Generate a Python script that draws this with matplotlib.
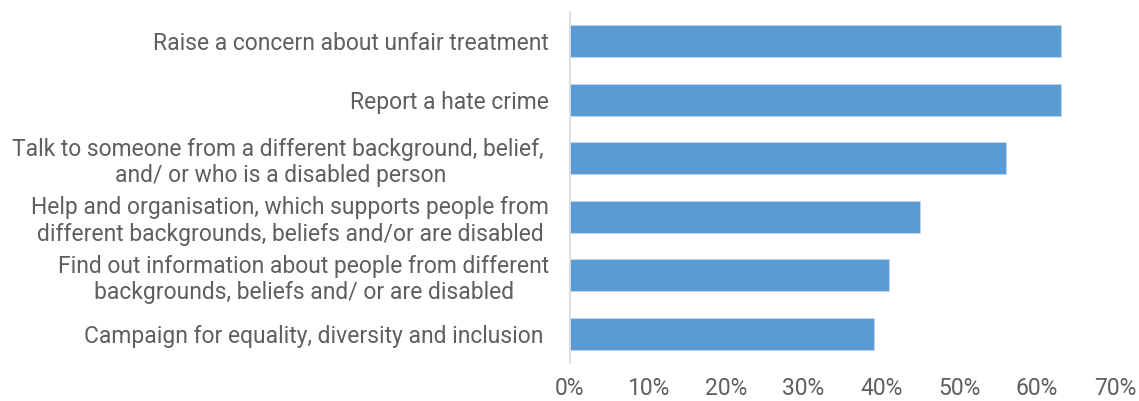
import matplotlib
matplotlib.use("Agg")
import matplotlib.pyplot as plt
from matplotlib.ticker import PercentFormatter
from matplotlib import font_manager

categories = [
    "Raise a concern about unfair treatment",
    "Report a hate crime",
    "Talk to someone from a different background, belief, \nand/ or who is a disabled person",
    "Help and organisation, which supports people from\ndifferent backgrounds, beliefs and/or are disabled",
    "Find out information about people from different\nbackgrounds, beliefs and/ or are disabled",
    "Campaign for equality, diversity and inclusion ",
]
values = [63, 63, 56, 45, 41, 39]
x_ticks = [0, 10, 20, 30, 40, 50, 60, 70]

names = {f.name for f in font_manager.fontManager.ttflist}
family = "Liberation Sans Narrow" if "Liberation Sans Narrow" in names else "Roboto"
plt.rcParams["font.family"] = [family, "DejaVu Sans"]

fig = plt.figure(figsize=(11.39, 4.01), dpi=100)
ax = fig.add_axes([570 / 1139, 1 - 363 / 401, (1115 - 570) / 1139, (363 - 12) / 401])

y = range(len(categories))
ax.barh(y, values, height=0.55, color="#5B9BD5", edgecolor="#BDD7EE", linewidth=0.6)
ax.set_ylim(len(categories) - 0.5, -0.5)
ax.set_xlim(0, 70)
ax.set_xticks(x_ticks)
ax.xaxis.set_major_formatter(PercentFormatter(decimals=0))
ax.set_yticks(list(y))
ax.set_yticklabels(categories, ha="right", multialignment="center")

for s in ["top", "right", "bottom"]:
    ax.spines[s].set_visible(False)
ax.spines["left"].set_color("#D9D9D9")
ax.spines["left"].set_linewidth(1.2)
ax.tick_params(axis="both", length=0, colors="#5f5f5f", labelsize=16.5)
ax.tick_params(axis="x", pad=10)
ax.tick_params(axis="y", pad=15)

fig.savefig("out.png", dpi=100)
